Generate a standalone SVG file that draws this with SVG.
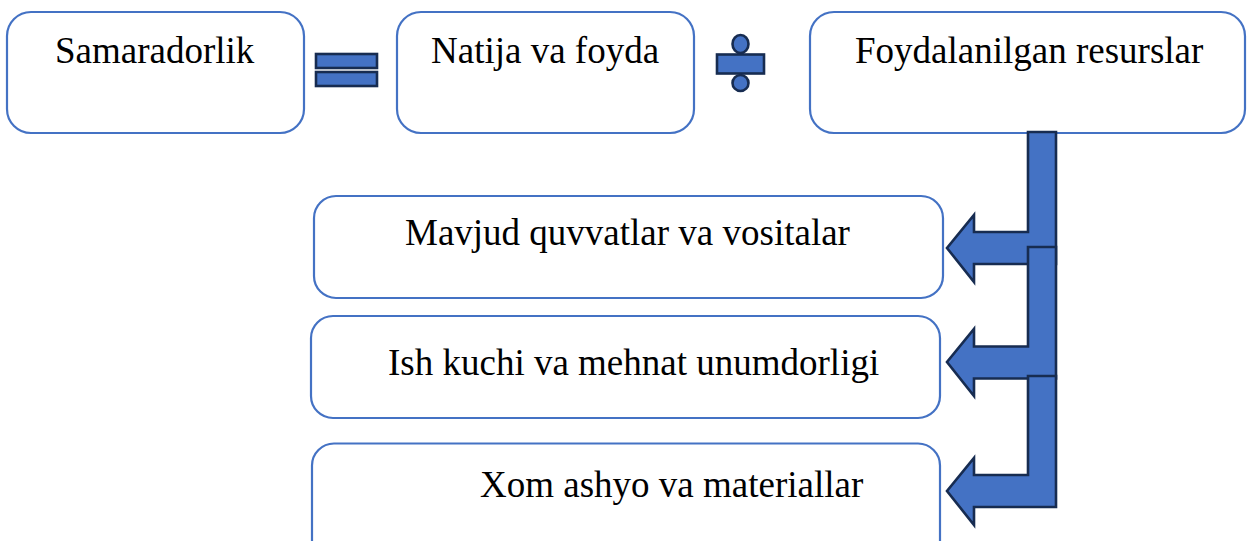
<svg xmlns="http://www.w3.org/2000/svg" width="1247" height="541" viewBox="0 0 1247 541">
<style>
.box{fill:#fff;stroke:#4472C4;stroke-width:2.2}
.lbl{font-family:"Liberation Serif","Times New Roman",serif;font-size:37px;fill:#000}
.sym{fill:#4472C4;stroke:#172C51;stroke-width:2.6}
</style>
<rect width="1247" height="541" fill="#fff"/>
<g id="samaradorlik"><rect class="box" x="7" y="12" width="297" height="121" rx="24"/><text class="lbl" x="55" y="63">Samaradorlik</text></g>
<g id="equals"><rect class="sym" x="316" y="54" width="61" height="14"/><rect class="sym" x="316" y="72" width="61" height="14"/></g>
<g id="natija"><rect class="box" x="397" y="12" width="297" height="121" rx="24"/><text class="lbl" x="431" y="63">Natija va foyda</text></g>
<g id="divide"><ellipse class="sym" cx="740.5" cy="44" rx="8" ry="9"/><rect class="sym" x="717" y="54.5" width="47" height="19"/><ellipse class="sym" cx="740.5" cy="83" rx="8" ry="8"/></g>
<g id="resurslar"><rect class="box" x="810" y="12" width="435" height="121" rx="24"/><text class="lbl" x="855" y="63">Foydalanilgan resurslar</text></g>
<g id="mavjud"><rect class="box" x="314" y="196" width="629" height="102" rx="22"/><text class="lbl" x="405" y="245">Mavjud quvvatlar va vositalar</text></g>
<g id="ishkuchi"><rect class="box" x="311" y="316" width="629" height="102" rx="22"/><text class="lbl" x="388" y="375">Ish kuchi va mehnat unumdorligi</text></g>
<g id="xomashyo"><rect class="box" x="312" y="443.5" width="628" height="120" rx="22"/><text class="lbl" x="480" y="497">Xom ashyo va materiallar</text></g>
<g id="connectors">
<polygon class="sym" points="1028,132 1056,132 1056,264 974,264 974,282 947,248 974,215 974,232 1028,232"/>
<polygon class="sym" points="1028,247 1056,247 1056,378.5 974,378.5 974,396 947,362 974,329 974,346.5 1028,346.5"/>
<polygon class="sym" points="1028,376 1056,376 1056,507 974,507 974,525 947,491 974,458 974,475 1028,475"/>
</g>
</svg>
